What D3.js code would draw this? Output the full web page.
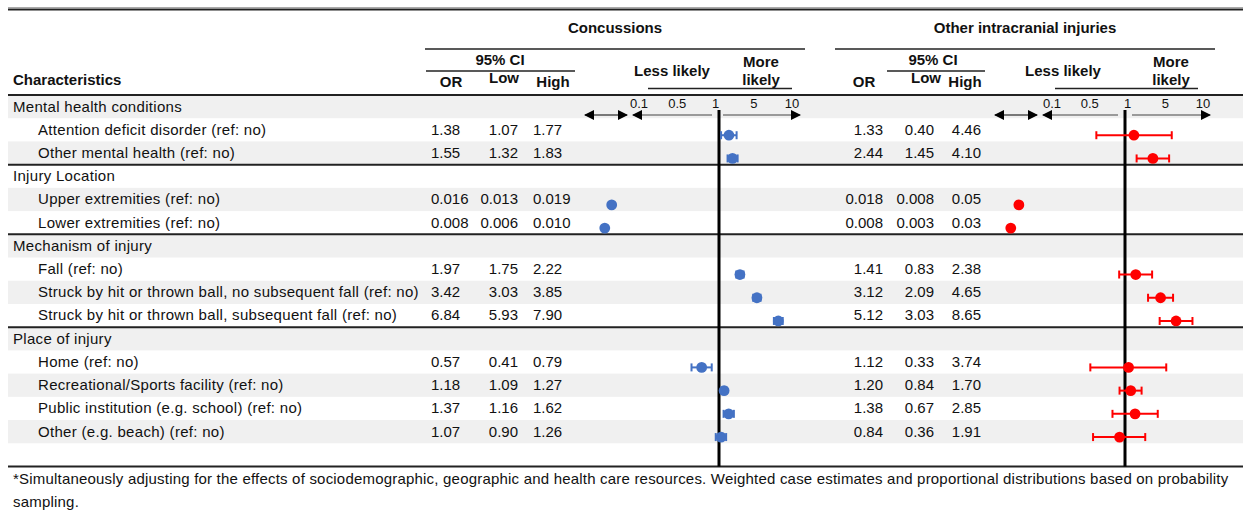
<!DOCTYPE html>
<html>
<head>
<meta charset="utf-8">
<script src="https://cdn.jsdelivr.net/npm/d3@7"></script>
<style>
  html, body { margin: 0; padding: 0; background: #fff; }
  svg text { font-family: "Liberation Sans", Arial, Helvetica, sans-serif; fill: #111; }
</style>
</head>
<body>
<svg id="chart" width="1249" height="510"></svg>
<script>
// ---- Row labels ----
const groups = ["Mental health conditions", "Injury Location", "Mechanism of injury", "Place of injury"];
const items = [
  "Attention deficit disorder (ref: no)",
  "Other mental health (ref: no)",
  "Upper extremities (ref: no)",
  "Lower extremities (ref: no)",
  "Fall (ref: no)",
  "Struck by hit or thrown ball, no subsequent fall (ref: no)",
  "Struck by hit or thrown ball, subsequent fall (ref: no)",
  "Home (ref: no)",
  "Recreational/Sports facility (ref: no)",
  "Public institution (e.g. school) (ref: no)",
  "Other (e.g. beach) (ref: no)"
];
const itemGroup = [0, 0, 1, 1, 2, 2, 2, 3, 3, 3, 3];

// ---- Odds ratios with 95% confidence limits (as printed) ----
const concOR   = ["1.38", "1.55", "0.016", "0.008", "1.97", "3.42", "6.84", "0.57", "1.18", "1.37", "1.07"];
const concLow  = ["1.07", "1.32", "0.013", "0.006", "1.75", "3.03", "5.93", "0.41", "1.09", "1.16", "0.90"];
const concHigh = ["1.77", "1.83", "0.019", "0.010", "2.22", "3.85", "7.90", "0.79", "1.27", "1.62", "1.26"];

const otherOR   = ["1.33", "2.44", "0.018", "0.008", "1.41", "3.12", "5.12", "1.12", "1.20", "1.38", "0.84"];
const otherLow  = ["0.40", "1.45", "0.008", "0.003", "0.83", "2.09", "3.03", "0.33", "0.84", "0.67", "0.36"];
const otherHigh = ["4.46", "4.10", "0.05", "0.03", "2.38", "4.65", "8.65", "3.74", "1.70", "2.85", "1.91"];

// ---- Axis / header text ----
const axisTicks = ["0.1", "0.5", "1", "5", "10"];
const panelTitles = ["Concussions", "Other intracranial injuries"];
const colHeads = ["OR", "Low", "High"];
const footnote = [
  "*Simultaneously adjusting for the effects of sociodemographic, geographic and health care resources. Weighted case estimates and proportional distributions based on probability",
  "sampling."
];

// ---- Layout ----
const tableLeft = 8, tableRight = 1243;
const bodyTop = 95, bodyBottom = 466.5;
const stripe = "#f0f0f0";

const svg = d3.select("#chart");

// Flatten the groups and items into table rows (plus one trailing blank row)
const rows = [];
groups.forEach((g, gi) => {
  rows.push({ type: "group", label: g, gi });
  items.forEach((it, i) => { if (itemGroup[i] === gi) rows.push({ type: "item", label: it, i }); });
});
rows.push({ type: "blank" });

const y = d3.scaleBand().domain(d3.range(rows.length)).range([bodyTop, bodyBottom]);
const rowOf = items.map((_, i) => rows.findIndex(r => r.type === "item" && r.i === i));

// Alternating stripes
svg.append("g").selectAll("rect")
  .data(rows.map((r, k) => k).filter(k => k % 2 === 0))
  .join("rect")
  .attr("x", tableLeft).attr("width", tableRight - tableLeft)
  .attr("y", k => y(k)).attr("height", y.bandwidth())
  .attr("fill", stripe);

// Row labels
svg.append("g").selectAll("text")
  .data(rows.filter(r => r.type !== "blank"))
  .join("text")
  .attr("x", r => r.type === "group" ? 13 : 38)
  .attr("y", r => y(rows.indexOf(r)) + 16.5)
  .attr("font-size", 15)
  .attr("letter-spacing", 0.3)
  .text(r => r.label);

// Rules
const rules = svg.append("g");
rules.append("line").attr("x1", tableLeft).attr("x2", tableRight).attr("y1", 7.5).attr("y2", 7.5)
  .attr("stroke", "#aaa").attr("stroke-width", 1);
rules.append("line").attr("x1", tableLeft).attr("x2", tableRight).attr("y1", 9.5).attr("y2", 9.5)
  .attr("stroke", "#222").attr("stroke-width", 2);
const sepRows = rows.map((r, k) => k).filter(k => rows[k].type === "group");
sepRows.concat([rows.length]).forEach(k => {
  const yy = k < rows.length ? y(k) : bodyBottom;
  rules.append("line").attr("x1", tableLeft).attr("x2", tableRight).attr("y1", yy).attr("y2", yy)
    .attr("stroke", "#222").attr("stroke-width", 2);
});

svg.append("text").attr("x", 13).attr("y", 85).attr("font-size", 15).attr("font-weight", "bold")
  .text("Characteristics");

// Arrow head marker
const defs = svg.append("defs");
defs.append("marker").attr("id", "arrow").attr("viewBox", "0 0 10 10")
  .attr("refX", 9).attr("refY", 5).attr("markerWidth", 12).attr("markerHeight", 10)
  .attr("markerUnits", "userSpaceOnUse").attr("orient", "auto-start-reverse")
  .append("path").attr("d", "M0,0 L10,5 L0,10 Z").attr("fill", "#000");

// Panel layouts
const panels = [
  {
    title: panelTitles[0], OR: concOR, low: concLow, high: concHigh,
    color: "#4472C4", ref: 719, decade: 71,
    cols: [{ x: 431, anchor: "start" }, { x: 518, anchor: "end" }, { x: 533, anchor: "start" }],
    heads: [{ x: 451, y: 87 }, { x: 504, y: 83 }, { x: 553, y: 87 }],
    titleX: 615, titleRule: [425, 805], ciX: 500, ciRule: [426, 575],
    lessX: 672, moreX: 761, likelyRule: [648, 792], tickRange: [639, 792],
    dbl: [585, 627], leftArrow: [633, 712], rightArrow: [723, 800]
  },
  {
    title: panelTitles[1], OR: otherOR, low: otherLow, high: otherHigh,
    color: "#FF0000", ref: 1125, decade: 72,
    cols: [{ x: 883, anchor: "end" }, { x: 934, anchor: "end" }, { x: 981, anchor: "end" }],
    heads: [{ x: 864, y: 87 }, { x: 926, y: 83 }, { x: 965, y: 87 }],
    titleX: 1025, titleRule: [835, 1215], ciX: 933, ciRule: [887, 985],
    lessX: 1063, moreX: 1171, likelyRule: [1055, 1198], tickRange: [1052, 1203],
    dbl: [995, 1037], leftArrow: [1043, 1118], rightArrow: [1132, 1210]
  }
];

panels.forEach(p => {
  const g = svg.append("g");

  // Header block
  g.append("text").attr("x", p.titleX).attr("y", 33).attr("text-anchor", "middle")
    .attr("font-size", 15).attr("font-weight", "bold").text(p.title);
  g.append("line").attr("x1", p.titleRule[0]).attr("x2", p.titleRule[1]).attr("y1", 49).attr("y2", 49)
    .attr("stroke", "#222").attr("stroke-width", 1.5);
  g.append("text").attr("x", p.ciX).attr("y", 65).attr("text-anchor", "middle")
    .attr("font-size", 15).attr("font-weight", "bold").text("95% CI");
  g.append("line").attr("x1", p.ciRule[0]).attr("x2", p.ciRule[1]).attr("y1", 71).attr("y2", 71)
    .attr("stroke", "#222").attr("stroke-width", 1.5);
  colHeads.forEach((h, j) => {
    g.append("text").attr("x", p.heads[j].x).attr("y", p.heads[j].y).attr("text-anchor", "middle")
      .attr("font-size", 15).attr("font-weight", "bold").text(h);
  });
  g.append("text").attr("x", p.lessX).attr("y", 76).attr("text-anchor", "middle")
    .attr("font-size", 15).attr("font-weight", "bold").text("Less likely");
  g.append("text").attr("x", p.moreX).attr("y", 66.5).attr("text-anchor", "middle")
    .attr("font-size", 15).attr("font-weight", "bold").text("More");
  g.append("text").attr("x", p.moreX).attr("y", 85).attr("text-anchor", "middle")
    .attr("font-size", 15).attr("font-weight", "bold").text("likely");
  g.append("line").attr("x1", p.likelyRule[0]).attr("x2", p.likelyRule[1]).attr("y1", 88.5).attr("y2", 88.5)
    .attr("stroke", "#222").attr("stroke-width", 1.5);

  // Numeric columns
  [p.OR, p.low, p.high].forEach((vals, j) => {
    g.append("g").selectAll("text").data(vals).join("text")
      .attr("x", p.cols[j].x).attr("text-anchor", p.cols[j].anchor)
      .attr("y", (v, i) => y(rowOf[i]) + 16.5)
      .attr("font-size", 15)
      .text(v => v);
  });

  // Scales: log axis centred on OR = 1, plus a compressed segment for very small ORs
  const x = d3.scaleLog().domain([0.1, 10]).range([p.ref - p.decade, p.ref + p.decade]);
  const xBreak = d3.scaleLog().domain([0.001, 0.1]).range([p.ref - 112 - 23, p.ref - 112 + 23]);
  const pos = v => (v < 0.1 ? xBreak(v) : x(v));

  // Tick labels (evenly spaced along the axis header)
  const tx = d3.scalePoint().domain(axisTicks).range(p.tickRange);
  g.append("g").selectAll("text").data(axisTicks).join("text")
    .attr("x", d => tx(d)).attr("y", 107.5).attr("text-anchor", "middle")
    .attr("font-family", "DejaVu Sans, sans-serif").attr("font-size", 13)
    .text(d => d);

  // Arrows
  const ay = 115;
  g.append("line").attr("x1", p.dbl[0]).attr("x2", p.dbl[1]).attr("y1", ay).attr("y2", ay)
    .attr("stroke", "#000").attr("stroke-width", 1)
    .attr("marker-start", "url(#arrow)").attr("marker-end", "url(#arrow)");
  g.append("line").attr("x1", p.leftArrow[1]).attr("x2", p.leftArrow[0]).attr("y1", ay).attr("y2", ay)
    .attr("stroke", "#444").attr("stroke-width", 1)
    .attr("marker-end", "url(#arrow)");
  g.append("line").attr("x1", p.rightArrow[0]).attr("x2", p.rightArrow[1]).attr("y1", ay).attr("y2", ay)
    .attr("stroke", "#444").attr("stroke-width", 1)
    .attr("marker-end", "url(#arrow)");

  // Reference line at OR = 1
  g.append("line").attr("x1", x(1)).attr("x2", x(1)).attr("y1", 110).attr("y2", bodyBottom)
    .attr("stroke", "#000").attr("stroke-width", 3);

  // Confidence intervals (only where both limits fall on the main axis)
  const data = p.OR.map((v, i) => ({ or: +v, lo: +p.low[i], hi: +p.high[i], cy: y(rowOf[i]) + 17 }));
  const ci = g.append("g").attr("stroke", p.color).attr("stroke-width", 2)
    .selectAll("g").data(data.filter(d => d.lo >= 0.1)).join("g");
  ci.append("line").attr("x1", d => x(d.lo)).attr("x2", d => x(d.hi)).attr("y1", d => d.cy).attr("y2", d => d.cy);
  ci.append("line").attr("x1", d => x(d.lo)).attr("x2", d => x(d.lo)).attr("y1", d => d.cy - 4).attr("y2", d => d.cy + 4);
  ci.append("line").attr("x1", d => x(d.hi)).attr("x2", d => x(d.hi)).attr("y1", d => d.cy - 4).attr("y2", d => d.cy + 4);

  // Point estimates
  g.append("g").selectAll("circle").data(data).join("circle")
    .attr("cx", d => pos(d.or)).attr("cy", d => d.cy).attr("r", 5.4)
    .attr("fill", p.color);
});

// Footnote
svg.append("g").selectAll("text").data(footnote).join("text")
  .attr("x", 13).attr("y", (d, i) => 484 + i * 23)
  .attr("font-size", 15)
  .attr("letter-spacing", 0.2)
  .text(d => d);
</script>
</body>
</html>
